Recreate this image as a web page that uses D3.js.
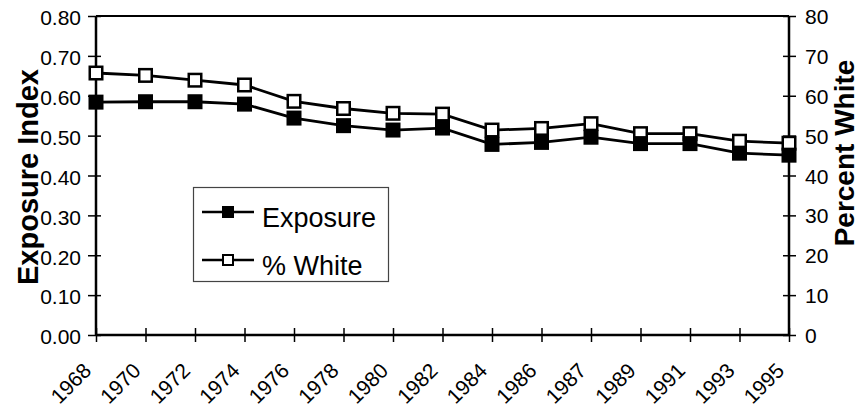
<!DOCTYPE html>
<html>
<head>
<meta charset="utf-8">
<script src="https://cdn.jsdelivr.net/npm/d3@7"></script>
<style>
  html, body { margin: 0; padding: 0; background: #fff; }
  svg { display: block; font-family: "Liberation Sans", Arial, sans-serif; }
</style>
</head>
<body>
<svg id="chart" width="859" height="408"></svg>
<script>
// ---- data ----
const years = ["1968","1970","1972","1974","1976","1978","1980","1982","1984","1986","1987","1989","1991","1993","1995"];
const exposure = [0.584,0.585,0.585,0.579,0.544,0.525,0.514,0.519,0.478,0.483,0.496,0.480,0.480,0.456,0.451];
const pctWhite = [65.7,65.1,63.9,62.7,58.6,56.8,55.6,55.4,51.4,51.8,53.0,50.5,50.5,48.6,48.1];
const leftTicks = [0,0.1,0.2,0.3,0.4,0.5,0.6,0.7,0.8];
const rightTicks = [0,10,20,30,40,50,60,70,80];
const seriesNames = ["Exposure","% White"];

// ---- layout ----
const L = 96, R = 789, T = 16, B = 335;
const FONT = "Liberation Sans, Arial, sans-serif";
const svg = d3.select("#chart");

const x = d3.scalePoint().domain(years).range([L, R]).padding(0);
const yL = d3.scaleLinear().domain([0, 0.8]).range([B, T]);
const yR = d3.scaleLinear().domain([0, 80]).range([B, T]);

// frame top
svg.append("line").attr("x1", L).attr("x2", R).attr("y1", T).attr("y2", T)
  .attr("stroke", "#000").attr("stroke-width", 2);

// left axis
const gL = svg.append("g").attr("transform", `translate(${L},0)`)
  .call(d3.axisLeft(yL).tickValues(leftTicks).tickFormat(d3.format(".2f")).tickSize(0));
gL.select(".domain").attr("stroke-width", 2.5).attr("d", `M0,${T}V${B}`);
gL.selectAll(".tick line").attr("x1", -8).attr("x2", 5).attr("stroke-width", 1.5);
gL.selectAll(".tick text").attr("x", -15).attr("dy", "0.42em")
  .attr("font-size", 21).attr("fill", "#000").attr("font-family", FONT);

// right axis
const gR = svg.append("g").attr("transform", `translate(${R},0)`)
  .call(d3.axisRight(yR).tickValues(rightTicks).tickFormat(d3.format("d")).tickSize(0));
gR.select(".domain").attr("stroke-width", 2.5).attr("d", `M0,${T}V${B}`);
gR.selectAll(".tick line").attr("x1", -6).attr("x2", 7).attr("stroke-width", 1.5);
gR.selectAll(".tick text").attr("x", 16).attr("dy", "0.36em")
  .attr("font-size", 21).attr("fill", "#000").attr("font-family", FONT);

// bottom axis
const gB = svg.append("g").attr("transform", `translate(0,${B})`)
  .call(d3.axisBottom(x).tickSize(0));
gB.select(".domain").attr("stroke-width", 2.5).attr("d", `M${L},0H${R}`);
gB.selectAll(".tick line").attr("y1", -7).attr("y2", 7).attr("stroke-width", 1.5);
gB.selectAll(".tick text")
  .attr("font-size", 21).attr("fill", "#000").attr("font-family", FONT)
  .attr("text-anchor", "end").attr("y", 0).attr("dy", 0)
  .attr("transform", "translate(-4,37) rotate(-45)");

// axis titles
svg.append("text")
  .attr("transform", `translate(38,177) rotate(-90)`)
  .attr("text-anchor", "middle").attr("font-weight", "bold").attr("font-size", 29)
  .attr("font-family", FONT)
  .text("Exposure Index");
svg.append("text")
  .attr("transform", `translate(854,153) rotate(-90)`)
  .attr("text-anchor", "middle").attr("font-weight", "bold").attr("font-size", 28)
  .attr("font-family", FONT)
  .text("Percent White");

// lines
const lineL = d3.line().x((d, i) => x(years[i])).y(d => yL(d));
const lineR = d3.line().x((d, i) => x(years[i])).y(d => yR(d));
svg.append("path").attr("d", lineR(pctWhite)).attr("fill", "none").attr("stroke", "#000").attr("stroke-width", 2.8);
svg.append("path").attr("d", lineL(exposure)).attr("fill", "none").attr("stroke", "#000").attr("stroke-width", 2.8);

const S = 15;
svg.append("g").selectAll("rect").data(pctWhite).join("rect")
  .attr("x", (d, i) => x(years[i]) - S / 2 + 1.25).attr("y", d => yR(d) - S / 2 + 1.25)
  .attr("width", S - 2.5).attr("height", S - 2.5)
  .attr("fill", "#fff").attr("stroke", "#000").attr("stroke-width", 2.5);
svg.append("g").selectAll("rect").data(exposure).join("rect")
  .attr("x", (d, i) => x(years[i]) - S / 2).attr("y", d => yL(d) - S / 2)
  .attr("width", S).attr("height", S).attr("fill", "#000");

// legend
const lg = svg.append("g");
lg.append("rect").attr("x", 193.5).attr("y", 187.5).attr("width", 195).attr("height", 94)
  .attr("fill", "#fff").attr("stroke", "#444").attr("stroke-width", 1.2);
const rows = [{ y: 212, name: seriesNames[0], filled: true }, { y: 260, name: seriesNames[1], filled: false }];
rows.forEach(r => {
  lg.append("line").attr("x1", 202).attr("x2", 254).attr("y1", r.y).attr("y2", r.y)
    .attr("stroke", "#000").attr("stroke-width", 2.5);
  if (r.filled) {
    lg.append("rect").attr("x", 222).attr("y", r.y - 6).attr("width", 12).attr("height", 12).attr("fill", "#000");
  } else {
    lg.append("rect").attr("x", 223).attr("y", r.y - 5).attr("width", 10).attr("height", 10)
      .attr("fill", "#fff").attr("stroke", "#000").attr("stroke-width", 2);
  }
  lg.append("text").attr("x", 262).attr("y", r.y + 15).attr("font-size", 27)
    .attr("font-family", FONT).text(r.name);
});
</script>
</body>
</html>
